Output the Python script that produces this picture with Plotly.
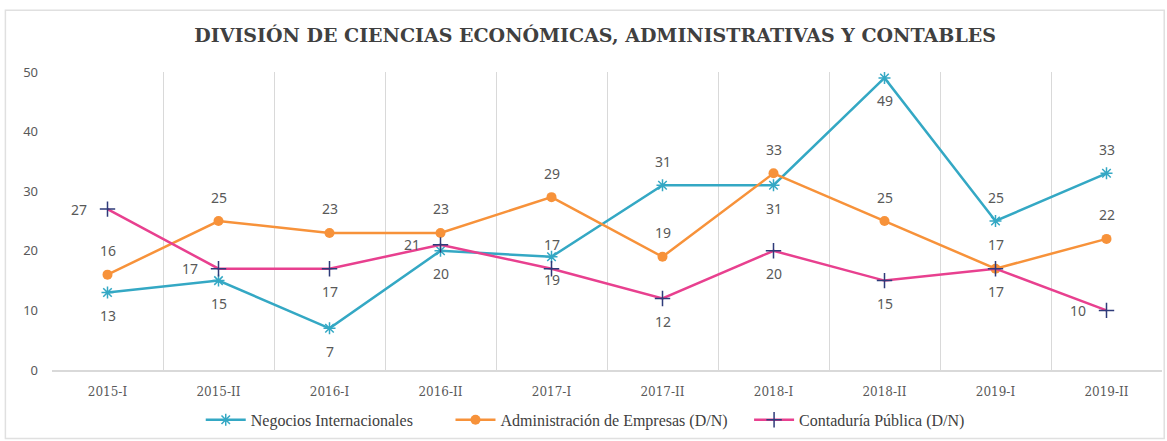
import plotly.graph_objects as go

periodos = ['2015-I', '2015-II', '2016-I', '2016-II', '2017-I',
            '2017-II', '2018-I', '2018-II', '2019-I', '2019-II']
negocios = [13, 15, 7, 20, 19, 31, 31, 49, 25, 33]
administracion = [16, 25, 23, 23, 29, 19, 33, 25, 17, 22]
contaduria = [27, 17, 17, 21, 17, 12, 20, 15, 17, 10]

# where each data label sits relative to its point (t=top, b=bottom, l=left)
pos_negocios = ['b', 'b', 'b', 'b', 'b', 't', 'b', 'b', 't', 't']
pos_admin = ['t'] * 10
pos_conta = ['l', 'l', 'b', 'l', 't', 'b', 'b', 'b', 'b', 'l']

AZUL = '#34a8c4'
NARANJA = '#f7923a'
ROSA = '#e8408f'
NAVY = '#2e3b7a'
GRIS = '#595959'

fig = go.Figure()
fig.add_trace(go.Scatter(
    x=periodos, y=negocios, name='Negocios Internacionales', mode='lines+markers',
    line=dict(color=AZUL, width=2.5), legend='legend',
    marker=dict(symbol='asterisk', size=10, line=dict(color=AZUL, width=1.5))))
fig.add_trace(go.Scatter(
    x=periodos, y=administracion, name='Administración de Empresas (D/N)', mode='lines+markers',
    line=dict(color=NARANJA, width=2.5), legend='legend2',
    marker=dict(symbol='circle', size=10, color=NARANJA)))
fig.add_trace(go.Scatter(
    x=periodos, y=contaduria, name='Contaduría Pública (D/N)', mode='lines+markers',
    line=dict(color=ROSA, width=2.5), legend='legend3',
    marker=dict(symbol='cross-thin', size=11, line=dict(color=NAVY, width=1.5))))

shift = {'t': (0, 24), 'b': (0, -23), 'l': (-29, 0)}
for vals, poss in [(negocios, pos_negocios), (administracion, pos_admin), (contaduria, pos_conta)]:
    for p, v, s in zip(periodos, vals, poss):
        dx, dy = shift[s]
        fig.add_annotation(x=p, y=v, text=str(v), showarrow=False,
                           xshift=dx, yshift=dy,
                           font=dict(family='Noto Sans', size=14, color=GRIS))

leg = dict(orientation='h', xanchor='left', yref='container', y=0.048, yanchor='middle',
           font=dict(family='Liberation Serif', size=16, color='#404040'), itemwidth=40)

fig.update_layout(
    width=1167, height=441,
    paper_bgcolor='white', plot_bgcolor='white',
    margin=dict(l=52, r=5, t=72, b=71),
    title=dict(text='<b>DIVISIÓN DE CIENCIAS ECONÓMICAS, ADMINISTRATIVAS Y CONTABLES</b>',
               x=0.51, xanchor='center', yref='container', y=0.92, yanchor='middle',
               font=dict(family='DejaVu Serif', size=19, color='#404040')),
    xaxis=dict(type='category', tickson='boundaries', showgrid=True, range=[-0.5, 9.5],
               gridcolor='#d9d9d9', gridwidth=1, ticks='', automargin=False,
               showline=True, linecolor='#d9d9d9', linewidth=1.5,
               ticklabelstandoff=10,
               tickfont=dict(family='DejaVu Serif', size=12, color=GRIS)),
    yaxis=dict(range=[0, 50], dtick=10, showgrid=False, zeroline=False,
               showline=False, ticks='', automargin=False,
               ticklabelstandoff=13,
               tickfont=dict(family='Noto Sans', size=13, color=GRIS)),
    legend=dict(leg, x=0.134),
    legend2=dict(leg, x=0.359),
    legend3=dict(leg, x=0.628),
    showlegend=True,
    shapes=[dict(type='rect', xref='paper', yref='paper',
                 x0=-0.042, x1=1.002, y0=-0.23, y1=1.207,
                 line=dict(color='#e0e0e0', width=1.5))]
)

fig.write_html('out.html', config={'displayModeBar': False},
               post_script="document.body.style.margin='0';")
